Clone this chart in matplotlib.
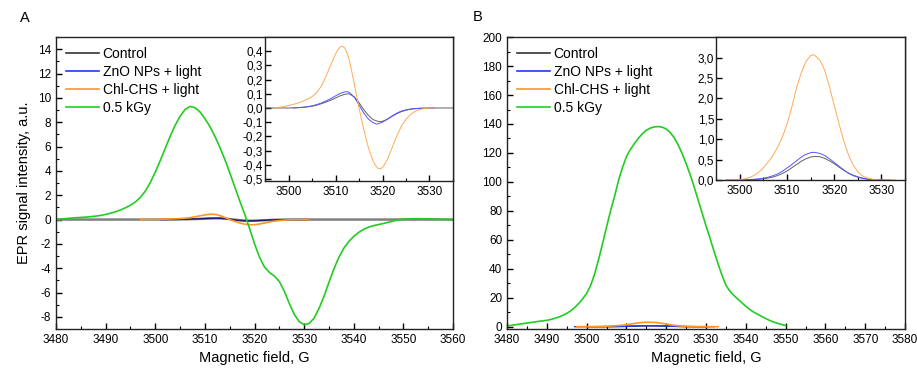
import matplotlib
matplotlib.use('Agg')
import matplotlib.pyplot as plt
from matplotlib.lines import Line2D
from matplotlib.ticker import MultipleLocator, FuncFormatter

plt.rcParams['font.family'] = ['Liberation Sans', 'DejaVu Sans']
plt.rcParams['axes.unicode_minus'] = False

labels = ['Control', 'ZnO NPs + light', 'Chl-CHS + light', '0.5 kGy']

# ---- Panel A: first-derivative EPR spectra ----
green_a_x = [3480, 3482, 3484, 3486, 3488, 3489, 3490, 3491, 3492, 3493, 3494, 3495, 3496,
             3497, 3498, 3499, 3500, 3501, 3502, 3503, 3504, 3505, 3506, 3507, 3508, 3509,
             3510, 3511, 3512, 3513, 3514, 3515, 3516, 3517, 3518, 3519, 3520, 3521, 3522,
             3523, 3524, 3525, 3526, 3527, 3528, 3529, 3530, 3531, 3532, 3533, 3534, 3535,
             3536, 3537, 3538, 3539, 3540, 3541, 3542, 3543, 3544, 3545, 3546, 3547, 3548,
             3549, 3550, 3551, 3553, 3556, 3558, 3560]
green_a_y = [0.0, 0.08, 0.15, 0.2, 0.28, 0.34, 0.42, 0.52, 0.64, 0.79, 0.97, 1.18, 1.45,
             1.82, 2.35, 3.05, 3.9, 4.85, 5.85, 6.85, 7.75, 8.5, 9.05, 9.3, 9.2, 8.85,
             8.3, 7.65, 6.85, 5.95, 4.95, 3.85, 2.7, 1.55, 0.45, -0.75, -2.0, -3.1, -3.9,
             -4.35, -4.65, -5.1, -5.9, -6.9, -7.8, -8.4, -8.65, -8.55, -8.1, -7.3, -6.3, -5.15,
             -4.05, -3.1, -2.35, -1.8, -1.38, -1.05, -0.8, -0.62, -0.5, -0.41, -0.32, -0.22, -0.12,
             -0.03, 0.03, 0.06, 0.07, 0.05, 0.02, 0.0]

orange_a_x = [3497, 3498, 3499, 3500, 3501, 3502, 3503, 3504, 3505, 3506, 3507, 3508, 3509,
              3510, 3510.5, 3511, 3511.5, 3512, 3512.5, 3513, 3514, 3515, 3516, 3517, 3518,
              3518.5, 3519, 3519.5, 3520, 3520.5, 3521, 3522, 3523, 3524, 3525, 3526, 3527,
              3528, 3529, 3530, 3531]
orange_a_y = [0.0, 0.005, 0.01, 0.017, 0.025, 0.035, 0.047, 0.062, 0.08, 0.108, 0.155, 0.225,
              0.305, 0.38, 0.41, 0.43, 0.435, 0.422, 0.385, 0.33, 0.17, 0.0, -0.15, -0.28,
              -0.375, -0.405, -0.425, -0.43, -0.42, -0.395, -0.365, -0.285, -0.2, -0.13,
              -0.08, -0.045, -0.022, -0.01, -0.004, 0.0, 0.0]

blue_a_x = [3501, 3502, 3503, 3504, 3505, 3506, 3507, 3508, 3509, 3510, 3511, 3512, 3512.5,
            3513, 3514, 3515, 3516, 3517, 3518, 3518.7, 3519, 3520, 3521, 3522, 3523, 3524,
            3525, 3526, 3527, 3528, 3531]
blue_a_y = [0.0, 0.002, 0.005, 0.009, 0.015, 0.024, 0.035, 0.05, 0.066, 0.085, 0.103, 0.114,
            0.115, 0.108, 0.075, 0.022, -0.035, -0.078, -0.104, -0.113, -0.112, -0.1, -0.08,
            -0.057, -0.037, -0.022, -0.013, -0.007, -0.004, -0.002, 0.0]

ctrl_a_x = [3480, 3500, 3502, 3503, 3504, 3505, 3506, 3507, 3508, 3509, 3510, 3511, 3512,
            3512.7, 3513, 3514, 3515, 3516, 3517, 3518, 3519, 3519.5, 3520, 3521, 3522, 3523,
            3524, 3525, 3526, 3527, 3528, 3531, 3560]
ctrl_a_y = [0.0, 0.0, 0.002, 0.004, 0.008, 0.012, 0.02, 0.03, 0.042, 0.055, 0.07, 0.086,
            0.097, 0.1, 0.098, 0.078, 0.038, -0.012, -0.052, -0.082, -0.094, -0.096, -0.094,
            -0.08, -0.06, -0.041, -0.026, -0.016, -0.009, -0.005, -0.002, 0.0, 0.0]

# ---- Panel B: integrated spectra ----
green_b_x = [3480, 3482, 3484, 3486, 3488, 3490, 3491, 3492, 3493, 3494, 3495, 3496, 3497,
             3498, 3499, 3500, 3501, 3502, 3503, 3504, 3505, 3506, 3507, 3508, 3509, 3510,
             3511, 3512, 3513, 3514, 3515, 3516, 3517, 3518, 3519, 3520, 3521, 3522, 3523,
             3524, 3525, 3526, 3527, 3528, 3529, 3530, 3531, 3532, 3533, 3534, 3535, 3536,
             3537, 3538, 3539, 3540, 3541, 3542, 3543, 3544, 3545, 3546, 3547, 3548, 3549,
             3550]
green_b_y = [0.5, 1.3, 2.1, 2.9, 3.7, 4.4, 5.0, 5.8, 6.7, 7.8, 9.2, 11.0, 13.3,
             16.0, 19.3, 23.0, 28.5, 36.5, 46.5, 57.5, 69, 80, 90, 101, 110, 117.5,
             122.5, 126.5, 130.2, 133.3, 135.7, 137.2, 138, 138.2, 137.8, 136.5, 134, 130.5, 125.5,
             119.5, 112.5, 105, 96.5, 87.5, 78.5, 69.5, 61, 52, 43.5, 35.5, 28.5, 24.5,
             21.5, 19, 16.5, 14, 11.8, 10, 8.5, 7.0, 5.6, 4.3, 3.2, 2.3, 1.5,
             0.8]

orange_b_x = [3497.5, 3499, 3500, 3501, 3502, 3503, 3504, 3505, 3506, 3507, 3508, 3509, 3510,
              3511, 3512, 3513, 3514, 3515, 3515.5, 3516, 3517, 3518, 3519, 3520, 3521, 3522,
              3523, 3524, 3525, 3526, 3527, 3528, 3529, 3530, 3533]
orange_b_y = [0.0, 0.0, 0.01, 0.03, 0.06, 0.11, 0.19, 0.3, 0.44, 0.6, 0.8, 1.05, 1.37,
              1.78, 2.25, 2.62, 2.9, 3.05, 3.07, 3.04, 2.93, 2.68, 2.28, 1.83, 1.38, 0.96,
              0.62, 0.37, 0.2, 0.1, 0.05, 0.02, 0.01, 0.0, 0.0]

blue_b_x = [3497, 3501, 3503, 3504, 3505, 3506, 3507, 3508, 3509, 3510, 3511, 3512, 3513,
            3514, 3515, 3515.5, 3516, 3517, 3518, 3519, 3520, 3521, 3522, 3523, 3524, 3525,
            3526, 3527, 3528, 3529, 3532]
blue_b_y = [0.0, 0.005, 0.02, 0.03, 0.045, 0.07, 0.105, 0.15, 0.215, 0.295, 0.38, 0.47, 0.56,
            0.63, 0.67, 0.68, 0.675, 0.65, 0.6, 0.52, 0.43, 0.34, 0.25, 0.17, 0.11, 0.07,
            0.04, 0.02, 0.01, 0.005, 0.0]

ctrl_b_x = [3500, 3503, 3504, 3505, 3506, 3507, 3508, 3509, 3510, 3511, 3512, 3513, 3514,
            3515, 3516, 3517, 3518, 3519, 3520, 3521, 3522, 3523, 3524, 3525, 3526, 3527,
            3528, 3530]
ctrl_b_y = [0.0, 0.01, 0.02, 0.03, 0.05, 0.075, 0.11, 0.16, 0.22, 0.3, 0.38, 0.46, 0.52,
            0.565, 0.58, 0.57, 0.53, 0.47, 0.4, 0.32, 0.24, 0.17, 0.12, 0.08, 0.05, 0.03,
            0.015, 0.0]

legend_colors = ['#333333', '#1a3cff', '#ff9428', '#22cc22']
tick_fs = 8.5


def comma(v, pos):
    return '{:.1f}'.format(v).replace('.', ',')


def style_axes(ax):
    for s in ax.spines.values():
        s.set_linewidth(1.0)
        s.set_color('#222222')
    ax.tick_params(which='both', direction='in', labelsize=tick_fs, top=False, right=False)
    ax.tick_params(which='major', length=4, width=1.0)
    ax.tick_params(which='minor', length=2, width=0.8)


def add_legend(ax):
    handles = [Line2D([0], [0], color=c, lw=1.2) for c in legend_colors]
    ax.legend(handles, labels, loc='upper left', frameon=False, fontsize=10,
              handlelength=2.4, handletextpad=0.25, labelspacing=0.3,
              borderaxespad=0.3, bbox_to_anchor=(0.0, 1.0))


fig = plt.figure(figsize=(9.17, 3.69), dpi=100)

# Panel A main
axa = fig.add_axes([0.0611, 0.1084, 0.433, 0.791])
axa.plot(ctrl_a_x, ctrl_a_y, color='#808080', lw=1.8)
axa.plot(blue_a_x, blue_a_y, color='#1c1c70', lw=1.0)
axa.plot(orange_a_x, orange_a_y, color='#ff9428', lw=1.2)
axa.plot(green_a_x, green_a_y, color='#22cc22', lw=1.2)
axa.set_xlim(3480, 3560)
axa.set_ylim(-9, 15)
axa.xaxis.set_major_locator(MultipleLocator(10))
axa.xaxis.set_minor_locator(MultipleLocator(5))
axa.yaxis.set_minor_locator(MultipleLocator(1))
axa.set_yticks(range(-8, 15, 2))
style_axes(axa)
add_legend(axa)
axa.set_xlabel('Magnetic field, G', fontsize=10.5, labelpad=4)
axa.set_ylabel('EPR signal intensity, a.u.', fontsize=10.5, labelpad=5)
fig.text(0.022, 0.950, 'A', fontsize=10.5, ha='left', va='center')

# Panel A inset
ina = fig.add_axes([0.289, 0.5095, 0.205, 0.390])
ina.set_facecolor('white')
ina.plot(ctrl_a_x, ctrl_a_y, color='#606060', lw=0.7)
ina.plot(blue_a_x, blue_a_y, color='#5555ff', lw=0.7)
ina.plot(orange_a_x, orange_a_y, color='#ffaa55', lw=0.7)
ina.set_xlim(3495, 3535)
ina.set_ylim(-0.515, 0.5)
ina.xaxis.set_major_locator(MultipleLocator(10))
ina.xaxis.set_minor_locator(MultipleLocator(5))
ina.set_yticks([-0.5, -0.4, -0.3, -0.2, -0.1, 0.0, 0.1, 0.2, 0.3, 0.4])
ina.yaxis.set_major_formatter(FuncFormatter(comma))
style_axes(ina)
ina.tick_params(axis='y', pad=1.5)

# Panel B main
axb = fig.add_axes([0.553, 0.1084, 0.434, 0.791])
axb.plot(green_b_x, green_b_y, color='#22cc22', lw=1.2)
axb.plot(ctrl_b_x, ctrl_b_y, color='#222222', lw=1.0)
axb.plot(blue_b_x, blue_b_y, color='#1a3cff', lw=1.0)
axb.plot(orange_b_x, orange_b_y, color='#ff9428', lw=1.2)
axb.set_xlim(3480, 3580)
axb.set_ylim(-1.6, 200)
axb.xaxis.set_major_locator(MultipleLocator(10))
axb.xaxis.set_minor_locator(MultipleLocator(5))
axb.yaxis.set_major_locator(MultipleLocator(20))
axb.yaxis.set_minor_locator(MultipleLocator(10))
style_axes(axb)
add_legend(axb)
axb.set_xlabel('Magnetic field, G', fontsize=10.5, labelpad=4)
fig.text(0.516, 0.955, 'B', fontsize=10.5, ha='left', va='center')

# Panel B inset
inb = fig.add_axes([0.781, 0.512, 0.206, 0.3875])
inb.set_facecolor('white')
inb.plot(ctrl_b_x, ctrl_b_y, color='#606060', lw=0.7)
inb.plot(blue_b_x, blue_b_y, color='#5555ff', lw=0.7)
inb.plot(orange_b_x, orange_b_y, color='#ffaa55', lw=0.7)
inb.set_xlim(3495, 3535)
inb.set_ylim(0, 3.5)
inb.xaxis.set_major_locator(MultipleLocator(10))
inb.xaxis.set_minor_locator(MultipleLocator(5))
inb.set_yticks([0.0, 0.5, 1.0, 1.5, 2.0, 2.5, 3.0])
inb.yaxis.set_major_formatter(FuncFormatter(comma))
style_axes(inb)
inb.tick_params(axis='y', pad=1.5)

fig.savefig('out.png', dpi=100)
